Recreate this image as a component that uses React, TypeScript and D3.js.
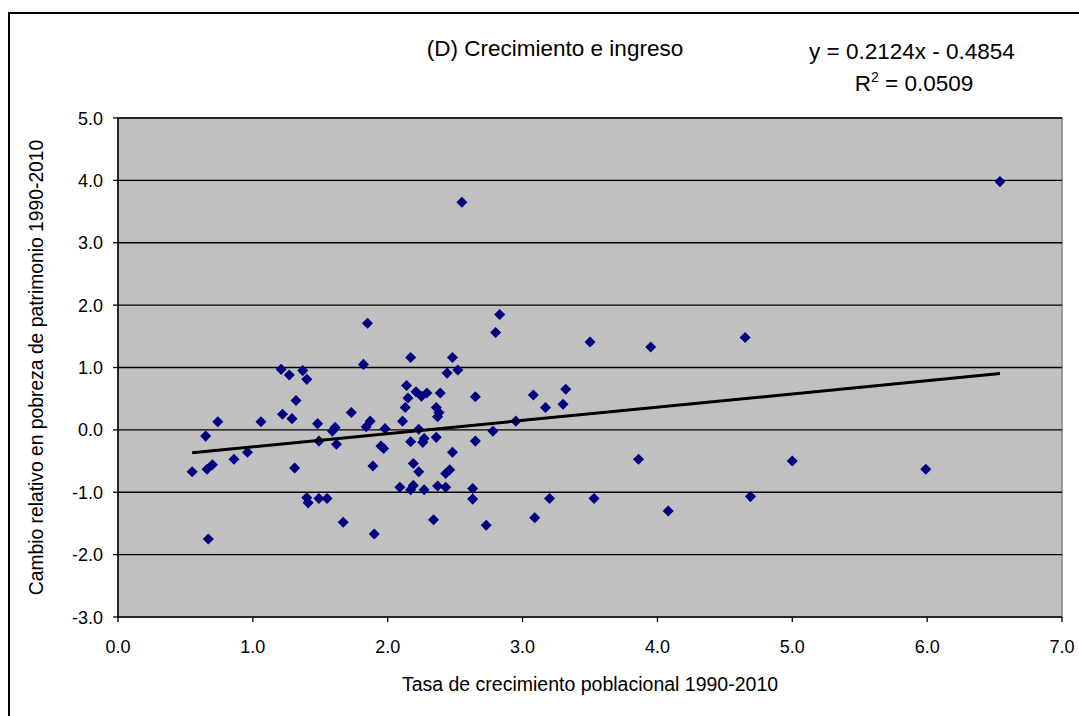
import React from "react";
import * as d3 from "d3";

const growthRate = [
  0.55, 0.65, 0.66, 0.67, 0.70, 0.74, 0.86, 0.96, 1.06, 1.21,
  1.27, 1.22, 1.29, 1.32, 1.31, 1.37, 1.40, 1.40, 1.41, 1.49,
  1.55, 1.48, 1.49, 1.61, 1.59, 1.62, 1.67, 1.73, 1.85, 1.82,
  1.84, 1.87, 1.89, 1.90, 1.98, 1.95, 1.97, 2.11, 2.17, 2.14,
  2.15, 2.13, 2.09, 2.17, 2.19, 2.27, 2.37, 2.43, 2.34, 2.17,
  2.19, 2.23, 2.23, 2.26, 2.27, 2.21, 2.25, 2.29, 2.39, 2.36,
  2.36, 2.38, 2.37, 2.44, 2.48, 2.52, 2.48, 2.43, 2.46, 2.63,
  2.63, 2.65, 2.65, 2.73, 2.78, 2.80, 2.83, 2.55, 2.95, 3.08,
  3.17, 3.09, 3.20, 3.32, 3.30, 3.50, 3.95, 4.65, 3.86, 5.00,
  3.53, 4.08, 4.69, 5.99, 6.54,
];

const povertyChange = [
  -0.67, -0.10, -0.63, -1.75, -0.56, 0.13, -0.47, -0.36, 0.13, 0.97,
  0.88, 0.25, 0.18, 0.47, -0.61, 0.95, 0.81, -1.09, -1.17, -1.10,
  -1.10, 0.10, -0.18, 0.04, -0.02, -0.23, -1.48, 0.28, 1.71, 1.05,
  0.05, 0.14, -0.58, -1.67, 0.02, -0.26, -0.30, 0.14, 1.16, 0.71,
  0.51, 0.36, -0.92, -0.96, -0.89, -0.96, -0.90, -0.92, -1.44, -0.19,
  -0.54, -0.67, 0.01, -0.20, -0.14, 0.61, 0.54, 0.59, 0.59, -0.12,
  0.36, 0.28, 0.21, 0.91, 1.16, 0.96, -0.36, -0.70, -0.64, -0.94,
  -1.11, 0.53, -0.18, -1.53, -0.02, 1.56, 1.85, 3.65, 0.14, 0.56,
  0.36, -1.41, -1.10, 0.65, 0.41, 1.41, 1.33, 1.48, -0.47, -0.50,
  -1.10, -1.30, -1.07, -0.63, 3.98,
];

const xTicks = [0, 1, 2, 3, 4, 5, 6, 7];
const yTicks = [-3, -2, -1, 0, 1, 2, 3, 4, 5];

const trendSlope = 0.2124;
const trendIntercept = -0.4854;
const rSquared = "0.0509";

const titleText = "(D) Crecimiento e ingreso";
const xLabel = "Tasa de crecimiento poblacional 1990-2010";
const yLabel = "Cambio relativo en pobreza de patrimonio 1990-2010";

export default function App() {
  const W = 1079;
  const H = 716;
  const left = 118;
  const right = 1062;
  const top = 118;
  const bottom = 617;

  const x = d3.scaleLinear().domain([0, 7]).range([left, right]);
  const y = d3.scaleLinear().domain([-3, 5]).range([bottom, top]);

  const points = growthRate.map((g, i) => ({ gx: g, py: povertyChange[i] }));
  const [xmin, xmax] = d3.extent(growthRate) as [number, number];
  const trendLine = d3
    .line<number>()
    .x((v) => x(v))
    .y((v) => y(trendSlope * v + trendIntercept))([xmin, xmax]);

  const diamond = d3.symbol().type(d3.symbolDiamond2).size(78)();
  const font = "'Liberation Sans', Arial, sans-serif";
  const fs = 18;
  const fmt = (t: number) => t.toFixed(1);

  return (
    <svg
      width={W}
      height={H}
      style={{ position: "absolute", left: 0, top: 0, background: "#fff" }}
      fontFamily={font}
    >
      <rect x={9} y={13} width={1200} height={900} fill="#fff" stroke="#000" strokeWidth={2} />
      <rect x={left} y={top} width={right - left} height={bottom - top} fill="#C0C0C0" stroke="#808080" strokeWidth={1.5} />
      {yTicks.filter((t) => t > -3).map((t) => (
        <line key={"g" + t} x1={left} x2={right} y1={y(t)} y2={y(t)} stroke="#000" strokeWidth={1.4} />
      ))}
      <line x1={left} x2={left} y1={top} y2={bottom} stroke="#000" strokeWidth={1.5} />
      <line x1={left} x2={right} y1={bottom} y2={bottom} stroke="#000" strokeWidth={1.5} />
      {yTicks.map((t) => (
        <g key={"yt" + t}>
          <line x1={left - 5} x2={left} y1={y(t)} y2={y(t)} stroke="#000" strokeWidth={1.3} />
          <text x={103} y={y(t) + 6.5} textAnchor="end" fontSize={fs} fill="#000">
            {fmt(t)}
          </text>
        </g>
      ))}
      {xTicks.map((t) => (
        <g key={"xt" + t}>
          <line x1={x(t)} x2={x(t)} y1={bottom} y2={bottom + 5} stroke="#000" strokeWidth={1.3} />
          <text x={x(t)} y={653} textAnchor="middle" fontSize={fs} fill="#000">
            {fmt(t)}
          </text>
        </g>
      ))}
      {points.map((p, i) => (
        <path key={i} d={diamond || ""} transform={`translate(${x(p.gx)},${y(p.py)})`} fill="#000080" />
      ))}
      <path d={trendLine || ""} stroke="#000" strokeWidth={3} fill="none" />
      <text x={555} y={56} textAnchor="middle" fontSize={22.5} fill="#000">{titleText}</text>
      <text x={912} y={59} textAnchor="middle" fontSize={22.5} fill="#000">
        {`y = ${trendSlope}x - ${Math.abs(trendIntercept)}`}
      </text>
      <text x={914} y={91} textAnchor="middle" fontSize={22.5} fill="#000">
        R<tspan dy={-9} fontSize={14}>2</tspan><tspan dy={9}>{` = ${rSquared}`}</tspan>
      </text>
      <text x={590} y={691} textAnchor="middle" fontSize={19.5} fill="#000">{xLabel}</text>
      <text transform={`translate(43,${(top + bottom) / 2}) rotate(-90)`} textAnchor="middle" fontSize={19.3} fill="#000">
        {yLabel}
      </text>
    </svg>
  );
}
